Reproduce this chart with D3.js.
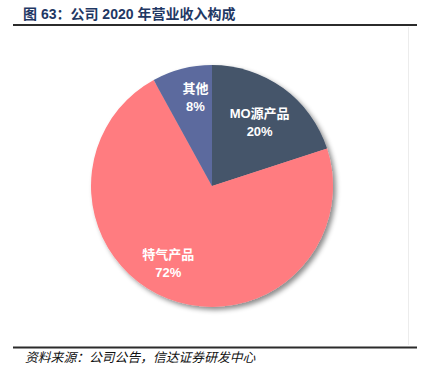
<!DOCTYPE html>
<html lang="zh">
<head>
    <meta charset="UTF-8">
    <title>公司 2020 年营业收入构成</title>
    <script src="https://cdn.jsdelivr.net/npm/d3@7/dist/d3.min.js"></script>
    <style>
        body { margin: 0; background: #fff; }
        svg text { font-family: "Liberation Sans", "Noto Sans CJK SC", sans-serif; }
    </style>
</head>
<body>
<svg id="chart" width="436" height="370"></svg>
<script>
    // revenue breakdown, 2020
    var categories = ['MO源产品', '特气产品', '其他'];
    var shares = [20, 72, 8];
    var colors = ['#44546A', '#FF7C80', '#5B6B9E'];

    var title = '图 63：公司 2020 年营业收入构成';
    var source = '资料来源：公司公告，信达证券研发中心';

    // label placement (radius fraction, angle nudge in radians)
    var labelPos = [
        {r: 0.67, da: 0.0},
        {r: 0.72, da: 0.15},
        {r: 0.76, da: 0.07}
    ];

    var svg = d3.select('#chart');

    var defs = svg.append('defs');
    var f = defs.append('filter').attr('id', 'shadow')
        .attr('x', '-20%').attr('y', '-20%').attr('width', '140%').attr('height', '140%');
    f.append('feDropShadow')
        .attr('dx', 3).attr('dy', 3).attr('stdDeviation', 2.5)
        .attr('flood-color', '#000').attr('flood-opacity', 0.45);

    // title
    svg.append('text')
        .attr('x', 23).attr('y', 19)
        .attr('font-size', 14).attr('font-weight', 'bold')
        .attr('fill', '#1F3864')
        .text(title);

    svg.append('line')
        .attr('x1', 13).attr('x2', 417).attr('y1', 25).attr('y2', 25)
        .attr('stroke', '#2b2b2b').attr('stroke-width', 2);

    // faint right edge of the plot frame
    svg.append('line')
        .attr('x1', 408.5).attr('x2', 408.5).attr('y1', 27).attr('y2', 345)
        .attr('stroke', '#ececec');

    svg.append('line')
        .attr('x1', 13).attr('x2', 417).attr('y1', 347.5).attr('y2', 347.5)
        .attr('stroke', '#2b2b2b').attr('stroke-width', 2);

    svg.append('text')
        .attr('x', 25).attr('y', 362)
        .attr('font-size', 12.8).attr('font-style', 'italic')
        .attr('font-family', '"Noto Sans CJK SC", sans-serif')
        .attr('fill', '#111')
        .text(source);

    // pie
    var cx = 212, cy = 186, radius = 121;
    var data = categories.map(function (c, i) {
        return {name: c, value: shares[i], color: colors[i], idx: i};
    });

    var pie = d3.pie().sort(null).value(function (d) { return d.value; });
    var arc = d3.arc().innerRadius(0).outerRadius(radius);
    var arcs = pie(data);

    var g = svg.append('g').attr('transform', 'translate(' + cx + ',' + cy + ')');

    g.append('g')
        .attr('filter', 'url(#shadow)')
        .selectAll('path')
        .data(arcs)
        .enter()
        .append('path')
        .attr('d', arc)
        .attr('fill', function (d) { return d.data.color; });

    var labels = g.selectAll('.slice-label')
        .data(arcs)
        .enter()
        .append('text')
        .attr('class', 'slice-label')
        .attr('text-anchor', 'middle')
        .attr('fill', '#fff')
        .attr('font-size', 13)
        .attr('font-weight', 'bold')
        .attr('transform', function (d) {
            var lp = labelPos[d.data.idx];
            var a = (d.startAngle + d.endAngle) / 2 + lp.da;
            var rr = radius * lp.r;
            return 'translate(' + (rr * Math.sin(a)) + ',' + (-rr * Math.cos(a)) + ')';
        });

    labels.append('tspan')
        .attr('x', 0).attr('dy', '-0.2em')
        .text(function (d) { return d.data.name; });
    labels.append('tspan')
        .attr('x', 0).attr('dy', '1.4em')
        .text(function (d) { return d.data.value + '%'; });
</script>
</body>
</html>
